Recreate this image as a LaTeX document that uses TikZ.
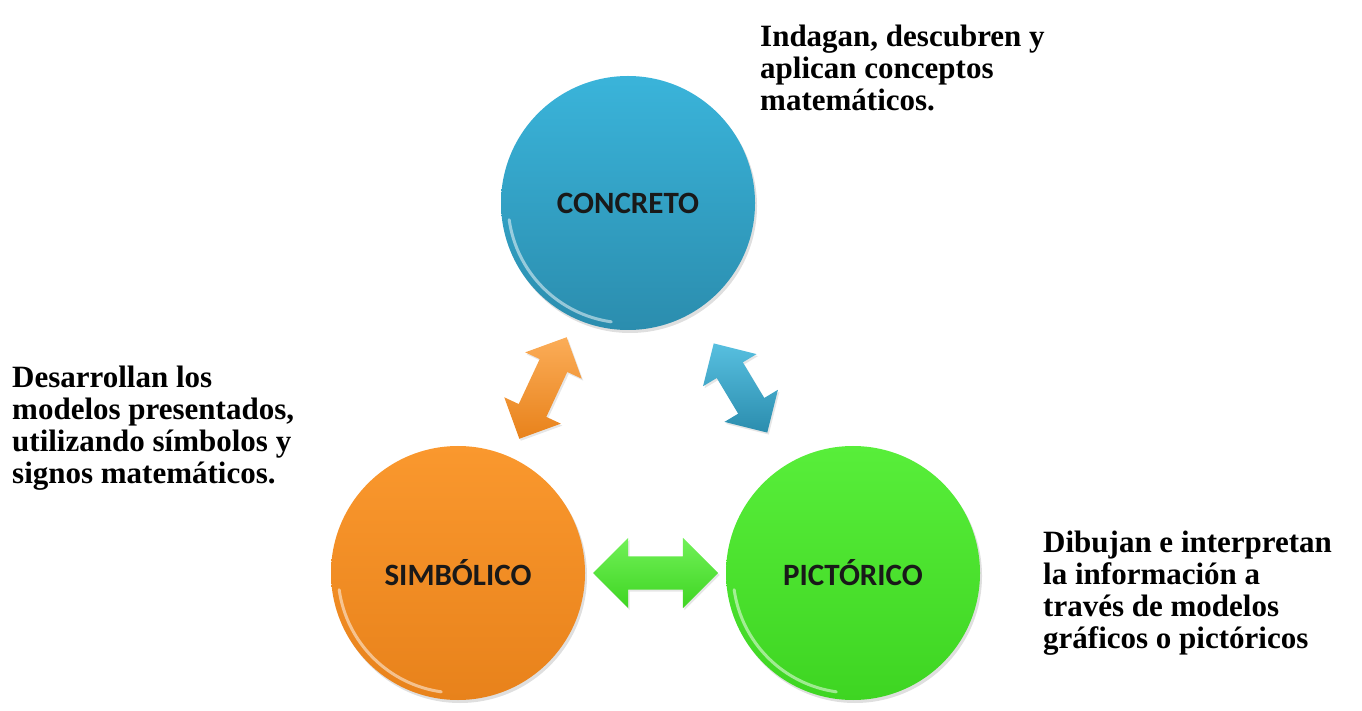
\documentclass[tikz,border=0pt]{standalone}
\usepackage{fontspec}
\setmainfont{Liberation Serif}
\newfontfamily\calfont{Carlito}
\usetikzlibrary{shapes.arrows,shadows,calc,positioning}
\definecolor{conblue}{HTML}{3AB4DA}
\definecolor{conbluedark}{HTML}{2B8DAE}
\definecolor{simorange}{HTML}{FA982E}
\definecolor{simorangedark}{HTML}{E8821B}
\definecolor{picgreen}{HTML}{58EE3A}
\definecolor{picgreendark}{HTML}{3ED522}
\tikzset
{
    stagenode/.style = {circle, minimum size=254pt, inner sep=0pt, text=black!90, font=\calfont\bfseries\fontsize{31}{31}\selectfont, drop shadow={opacity=0.25, shadow xshift=2pt, shadow yshift=-3pt}},
    linkarrow/.style = {double arrow, inner xsep=0pt, inner ysep=15pt, double arrow head extend=16pt, drop shadow={opacity=0.2, shadow xshift=1.5pt, shadow yshift=-2pt}},
    rimlight/.style  = {white, opacity=0.5, line width=3pt, line cap=round},
    notetext/.style  = {align=left, inner sep=0pt, anchor=north west, font=\bfseries\fontsize{31}{32}\selectfont}
}

\begin{document}
\begin{tikzpicture}[x=1pt, y=1pt]
	\useasboundingbox (0,0) rectangle (1362,710);
	% the three stages
	\node[stagenode, top color=conblue, bottom color=conbluedark] (conc) at (628,507) {CONCRETO};
	\node[stagenode, top color=simorange, bottom color=simorangedark] (simb) at (458,137) {SIMBÓLICO};
	\node[stagenode, top color=picgreen, bottom color=picgreendark] (pict) at (853,137) {PICTÓRICO};
	\foreach \n in {conc, simb, pict}
		\draw[rimlight] ($(\n)+(188:120)$) arc[start angle=188, end angle=262, radius=120];
	% links between the stages
	\node[linkarrow, minimum height=112pt, rotate=65, top color=simorange!80!white, bottom color=simorangedark] (cs) at ($(conc)!0.5!(simb)$) {};
	\node[linkarrow, minimum height=104pt, rotate=-59, top color=conblue!85!white, bottom color=conbluedark] (cp) at ($(conc)!0.5!(pict)$) {};
	\node[linkarrow, minimum height=125pt, inner ysep=16.5pt, double arrow head extend=18.5pt, top color=picgreen!85!white, bottom color=picgreendark] (sp) at ($(simb)!0.5!(pict)$) {};
	% notes
	\node[notetext] (concnote) at (760,685) {Indagan, descubren y\\aplican conceptos\\matemáticos.};
	\node[notetext] (simbnote) at (12,344) {Desarrollan los\\modelos presentados,\\utilizando símbolos y\\signos matemáticos.};
	\node[notetext] (pictnote) at (1043,179) {Dibujan e interpretan\\la información a\\través de modelos\\gráficos o pictóricos};
\end{tikzpicture}
\end{document}
